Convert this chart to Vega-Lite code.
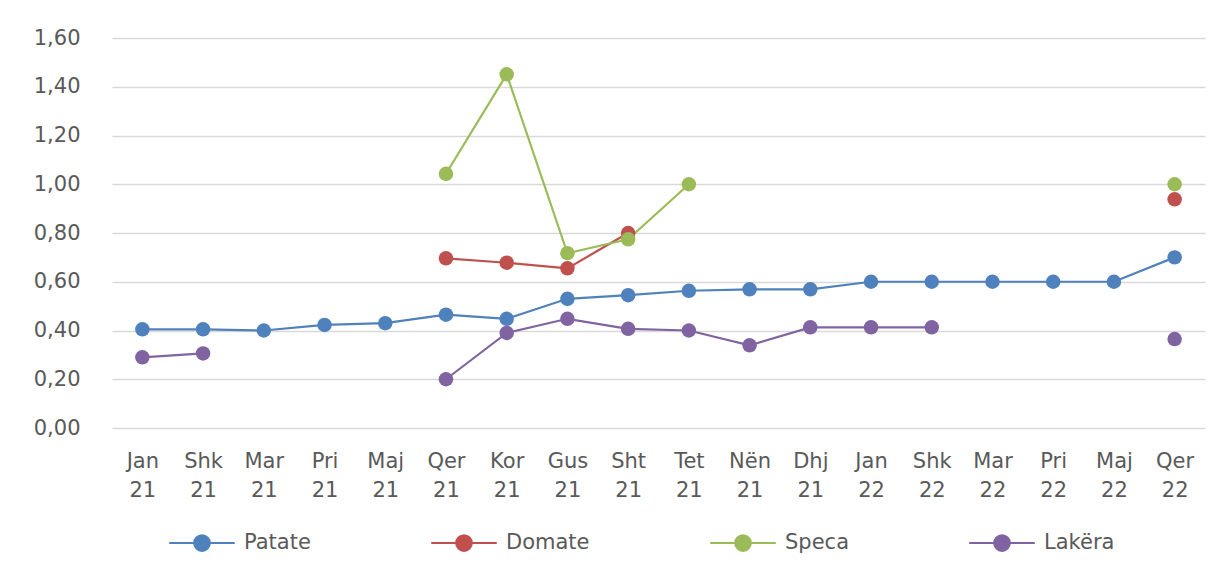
{
  "$schema": "https://vega.github.io/schema/vega-lite/v6.json",
  "width": 1093,
  "height": 390,
  "autosize": "none",
  "padding": {"left": 112, "top": 38, "right": 23, "bottom": 144},
  "background": "white",
  "config": {
    "view": {"stroke": null},
    "font": "DejaVu Sans",
    "axis": {"labelFont": "DejaVu Sans", "labelColor": "#595959", "labelFontSize": 21},
    "legend": {"labelFont": "DejaVu Sans", "labelColor": "#595959", "labelFontSize": 21}
  },
  "data": {
    "values": [
      {"month": "Jan 21", "series": "Patate", "value": 0.405},
      {"month": "Shk 21", "series": "Patate", "value": 0.405},
      {"month": "Mar 21", "series": "Patate", "value": 0.40},
      {"month": "Pri 21", "series": "Patate", "value": 0.423},
      {"month": "Maj 21", "series": "Patate", "value": 0.43},
      {"month": "Qer 21", "series": "Patate", "value": 0.465},
      {"month": "Kor 21", "series": "Patate", "value": 0.448},
      {"month": "Gus 21", "series": "Patate", "value": 0.53},
      {"month": "Sht 21", "series": "Patate", "value": 0.545},
      {"month": "Tet 21", "series": "Patate", "value": 0.563},
      {"month": "Nën 21", "series": "Patate", "value": 0.569},
      {"month": "Dhj 21", "series": "Patate", "value": 0.569},
      {"month": "Jan 22", "series": "Patate", "value": 0.60},
      {"month": "Shk 22", "series": "Patate", "value": 0.60},
      {"month": "Mar 22", "series": "Patate", "value": 0.60},
      {"month": "Pri 22", "series": "Patate", "value": 0.60},
      {"month": "Maj 22", "series": "Patate", "value": 0.60},
      {"month": "Qer 22", "series": "Patate", "value": 0.70},

      {"month": "Qer 21", "series": "Domate", "value": 0.696},
      {"month": "Kor 21", "series": "Domate", "value": 0.678},
      {"month": "Gus 21", "series": "Domate", "value": 0.655},
      {"month": "Sht 21", "series": "Domate", "value": 0.80},
      {"month": "Tet 21", "series": "Domate", "value": null},
      {"month": "Qer 22", "series": "Domate", "value": 0.938},

      {"month": "Qer 21", "series": "Speca", "value": 1.043},
      {"month": "Kor 21", "series": "Speca", "value": 1.451},
      {"month": "Gus 21", "series": "Speca", "value": 0.717},
      {"month": "Sht 21", "series": "Speca", "value": 0.774},
      {"month": "Tet 21", "series": "Speca", "value": 1.00},
      {"month": "Nën 21", "series": "Speca", "value": null},
      {"month": "Qer 22", "series": "Speca", "value": 1.00},

      {"month": "Jan 21", "series": "Lakëra", "value": 0.29},
      {"month": "Shk 21", "series": "Lakëra", "value": 0.306},
      {"month": "Mar 21", "series": "Lakëra", "value": null},
      {"month": "Qer 21", "series": "Lakëra", "value": 0.20},
      {"month": "Kor 21", "series": "Lakëra", "value": 0.39},
      {"month": "Gus 21", "series": "Lakëra", "value": 0.448},
      {"month": "Sht 21", "series": "Lakëra", "value": 0.407},
      {"month": "Tet 21", "series": "Lakëra", "value": 0.40},
      {"month": "Nën 21", "series": "Lakëra", "value": 0.339},
      {"month": "Dhj 21", "series": "Lakëra", "value": 0.413},
      {"month": "Jan 22", "series": "Lakëra", "value": 0.413},
      {"month": "Shk 22", "series": "Lakëra", "value": 0.413},
      {"month": "Mar 22", "series": "Lakëra", "value": null},
      {"month": "Qer 22", "series": "Lakëra", "value": 0.365}
    ]
  },
  "encoding": {
    "x": {
      "field": "month",
      "type": "ordinal",
      "sort": ["Jan 21","Shk 21","Mar 21","Pri 21","Maj 21","Qer 21","Kor 21","Gus 21","Sht 21","Tet 21","Nën 21","Dhj 21","Jan 22","Shk 22","Mar 22","Pri 22","Maj 22","Qer 22"],
      "scale": {"type": "point", "padding": 0.5},
      "axis": {
        "title": null,
        "labelAngle": 0,
        "ticks": false,
        "domain": false,
        "grid": false,
        "labelPadding": 22,
        "labelBaseline": "top",
        "labelLineHeight": 29,
        "labelExpr": "split(datum.label, ' ')"
      }
    },
    "y": {
      "field": "value",
      "type": "quantitative",
      "scale": {"domain": [0, 1.6], "nice": false},
      "axis": {
        "title": null,
        "values": [0, 0.2, 0.4, 0.6, 0.8, 1.0, 1.2, 1.4, 1.6],
        "labelExpr": "replace(format(datum.value, '.2f'), '.', ',')",
        "ticks": false,
        "domain": false,
        "grid": true,
        "gridColor": "#d9d9d9",
        "gridWidth": 1.5,
        "labelPadding": 32
      }
    },
    "color": {
      "field": "series",
      "type": "nominal",
      "scale": {
        "domain": ["Patate", "Domate", "Speca", "Lakëra"],
        "range": ["#4F81BD", "#C0504D", "#9BBB59", "#8064A2"]
      },
      "legend": {
        "title": null,
        "orient": "none",
        "direction": "horizontal",
        "legendX": 56,
        "legendY": 471,
        "symbolType": "M-1,0L1,0M-0.24,0A0.24,0.24,0,1,1,0.24,0A0.24,0.24,0,1,1,-0.24,0Z",
        "symbolSize": 4300,
        "symbolStrokeWidth": 2,
        "labelOffset": 8,
        "columnPadding": 116
      }
    }
  },
  "layer": [
    {"mark": {"type": "line", "strokeWidth": 2.2}},
    {"mark": {"type": "point", "filled": true, "size": 210, "opacity": 1}}
  ]
}
